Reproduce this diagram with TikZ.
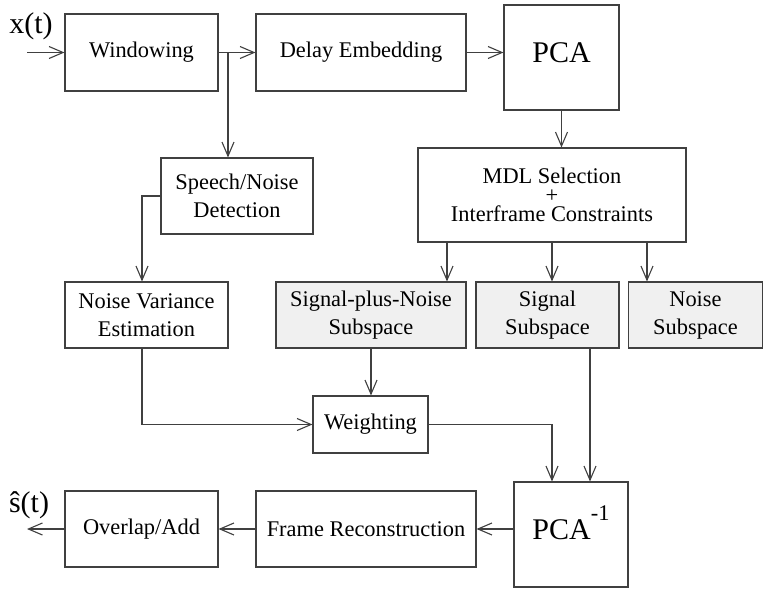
\documentclass[tikz,border=0pt]{standalone}
\usepackage{fontspec}
\setmainfont{Liberation Serif}
\usetikzlibrary{arrows.meta, calc}
\newcommand{\boxfont}{\fontsize{22.4}{28}\selectfont}
\newcommand{\pcafont}{\fontsize{30}{36}\selectfont}

\begin{document}
\begin{tikzpicture}[
            x=1pt, y=-1pt,
            >={Straight Barb[length=14pt, width=12pt]},
            size/.style 2 args={minimum width=#1pt, minimum height=#2pt},
            block/.style={draw=black!75, line width=1.1pt, inner sep=0pt, align=center, font=\boxfont},
            shaded/.style={block, fill=black!6},
            bigbox/.style={block, font=\pcafont, text height=20pt, text depth=11pt},
            flow/.style={->, draw=black!75, line width=1.1pt},
            signal/.style={font=\pcafont, inner sep=0pt}
        ]
            \useasboundingbox (0,0) rectangle (764,589);

            % top row
            \node[block, size={153}{77}] (win) at (141.5,52.5) {Windowing};
            \node[block, size={210}{77}] (delay) at (361,52.5) {Delay Embedding};
            \node[bigbox, size={115}{105}] (pca) at (561.5,57.5) {PCA};

            % middle
            \node[block, size={268}{94}] (mdl) at (552,195) {MDL Selection\\[-9pt]+\\[-9pt]Interframe Constraints};
            \node[block, size={152}{76}] (sn) at (237,196) {Speech/Noise\\Detection};
            \node[block, size={163}{66}] (nve) at (146.5,315) {Noise Variance\\Estimation};
            \node[shaded, size={190}{66}] (spn) at (371,315) {Signal-plus-Noise\\Subspace};
            \node[shaded, size={143}{66}] (sig) at (547.5,315) {Signal\\Subspace};
            \node[shaded, size={134}{66}] (noi) at (695.5,315) {Noise\\Subspace};
            \node[block, size={115}{57}] (wgt) at (370.5,424.5) {Weighting};

            % bottom row
            \node[bigbox, size={114}{105}] (ipca) at (571,534.5) {PCA\raisebox{19pt}{\boxfont -1}};
            \node[block, size={220}{76}] (frame) at (366,529) {Frame Reconstruction};
            \node[block, size={153}{76}] (ola) at (141.5,529) {Overlap/Add};

            % input and output
            \node[signal, anchor=base] (xin) at (31,34) {x(t)};
            \node[signal, anchor=base] (sout) at (29,512) {\^{s}(t)};
            \coordinate (xstart) at (27,52.5);
            \coordinate (send) at (27,529);
            \coordinate (split) at (228,52.5);

            \draw[flow] (xstart) -- (win.west);
            \draw[flow] (win.east) -- (delay.west);
            \draw[flow] (delay.east) -- (delay.east -| pca.west);
            \draw[flow] (split) -- (split |- sn.north);
            \draw[flow] (pca.south) -- (pca.south |- mdl.north);
            \foreach \dx/\target in {-105/spn, 0/sig, 95/noi}
                \draw[flow] ([xshift=\dx pt]mdl.south) -- ([xshift=\dx pt]mdl.south |- \target.north);
            \draw[flow] (sn.west) -| ([xshift=-4.5pt]nve.north);
            \draw[flow] ([xshift=-4.5pt]nve.south) |- (wgt.west);
            \draw[flow] (spn.south) -- (spn.south |- wgt.north);
            \draw[flow] (wgt.east) -| ([xshift=-19pt]ipca.north);
            \draw[flow] ([xshift=42.5pt]sig.south) -- ([xshift=42.5pt]sig.south |- ipca.north);
            \draw[flow] (ipca.west |- frame.east) -- (frame.east);
            \draw[flow] (frame.west) -- (ola.east);
            \draw[flow] (ola.west) -- (send);
        \end{tikzpicture}
\end{document}
